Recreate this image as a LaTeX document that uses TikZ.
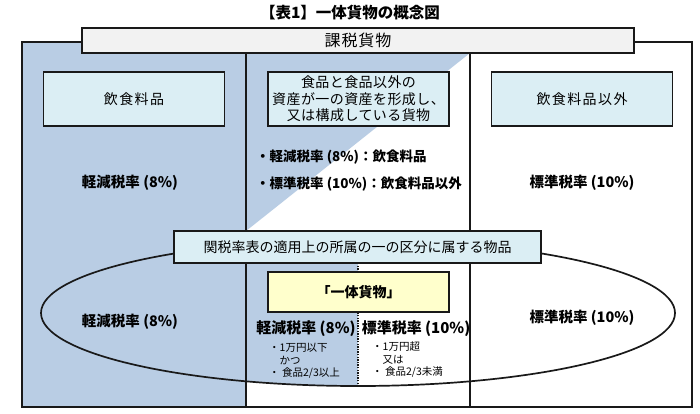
\documentclass[tikz,border=0pt]{standalone}
\usepackage{fontspec}
\setmainfont{Noto Sans CJK JP}
\definecolor{colblue}{RGB}{185,205,228}
\definecolor{boxblue}{RGB}{219,238,244}
\definecolor{bargray}{RGB}{242,242,242}
\definecolor{boxyellow}{RGB}{255,255,204}
\definecolor{linedark}{RGB}{25,25,25}
\begin{document}
\begin{tikzpicture}[x=1pt,y=-1pt,
  framebox/.style={draw=linedark, line width=1.8pt, inner sep=0pt, align=center},
  topbox/.style={framebox, fill=boxblue, minimum width=181pt, minimum height=54pt,
    font=\fontsize{14}{16.5}\selectfont\addfontfeatures{LetterSpace=10}},
  ratetext/.style={inner sep=0pt, font=\bfseries\fontsize{14.5}{16}\selectfont},
  bullettext/.style={inner sep=0pt, anchor=west, font=\bfseries\fontsize{13.5}{16}\selectfont},
  smalltext/.style={inner sep=0pt, anchor=west, align=left, font=\fontsize{10.5}{12.5}\selectfont},
  rule/.style={draw=linedark, line width=1.5pt}
]
\useasboundingbox (0,0) rectangle (700,413);
\fill[white] (0,0) rectangle (700,413);

% column fills
\fill[colblue] (22,42) rectangle (246,407);
\fill[colblue] (246,53) -- (470,53) -- (246,231) -- cycle;
\begin{scope}
  \clip (358,313) ellipse [x radius=317pt, y radius=73pt];
  \fill[colblue] (246,231) rectangle (358,407);
\end{scope}

% frame and dividers
\draw[rule] (22,42) rectangle (692,407);
\draw[rule] (246,42) -- (246,407);
\draw[rule] (470,42) -- (470,407);

% ellipse
\draw[draw=linedark, line width=1.7pt] (358,313) ellipse [x radius=317pt, y radius=73pt];

% dotted divider
\coordinate (dtop) at (358,263);
\coordinate (dbot) at (358,387);
\draw[linedark, line width=1.6pt, dash pattern=on 1.3pt off 1.3pt] (dtop) -- (dbot);

% title
\node[inner sep=0pt, font=\bfseries\fontsize{15.5}{17}\selectfont] (title) at (350,13) {【表1】一体貨物の概念図};

% header bar
\node[framebox, fill=bargray, minimum width=552pt, minimum height=25pt,
  font=\fontsize{16}{18}\selectfont\addfontfeatures{LetterSpace=6}] (bar) at (358,40.5) {課税貨物};

% top boxes
\node[topbox] (food) at (134,99) {飲食料品};
\node[topbox, font=\fontsize{14}{16.5}\selectfont\addfontfeatures{LetterSpace=3}] (mixed) at (358.5,99) {食品と食品以外の\\資産が一の資産を形成し、\\又は構成している貨物};
\node[topbox] (nonfood) at (582,99) {飲食料品以外};

% upper rate texts
\node[ratetext] (lrate1) at (130,183) {軽減税率 (8\%)};
\node[bullettext] (mb1) at (256,157) {・軽減税率 (8\%)：飲食料品};
\node[bullettext] (mb2) at (256,184) {・標準税率 (10\%)：飲食料品以外};
\node[ratetext] (rrate1) at (582,183) {標準税率 (10\%)};

% customs tariff box
\node[framebox, fill=boxblue, minimum width=367pt, minimum height=32pt,
  font=\fontsize{14}{16}\selectfont] (tariff) at (357.5,247) {関税率表の適用上の所属の一の区分に属する物品};

% yellow box
\node[framebox, fill=boxyellow, minimum width=181pt, minimum height=40pt,
  font=\bfseries\fontsize{14}{16}\selectfont] (ittai) at (358.5,292) {「一体貨物」};

% lower rate texts
\node[ratetext] (lrate2) at (130,322) {軽減税率 (8\%)};
\node[ratetext, font=\bfseries\fontsize{15}{17}\selectfont] (mrate1) at (306,329) {軽減税率 (8\%)};
\node[ratetext, font=\bfseries\fontsize{15}{17}\selectfont] (mrate2) at (416,329) {標準税率 (10\%)};
\node[ratetext] (rrate2) at (582,318) {標準税率 (10\%)};

% small conditions
\node[smalltext] (condl) at (269,361) {・1万円以下\\　かつ\\・ 食品2/3以上};
\node[smalltext] (condr) at (372,360) {・1万円超\\　又は\\・ 食品2/3未満};
\end{tikzpicture}
\end{document}
